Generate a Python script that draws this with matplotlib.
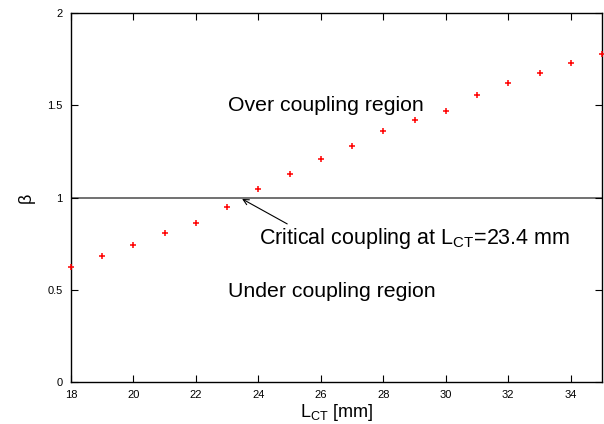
import numpy as np
import matplotlib
matplotlib.use('Agg')
import matplotlib.pyplot as plt

plt.rcParams['font.family'] = ['Liberation Sans', 'DejaVu Sans']
plt.rcParams['mathtext.fontset'] = 'custom'
plt.rcParams['mathtext.rm'] = 'Liberation Sans'
plt.rcParams['mathtext.it'] = 'Liberation Sans'

# data
l_ct = [18, 19, 20, 21, 22, 23, 24, 25, 26, 27, 28, 29, 30, 31, 32, 33, 34, 35]
beta = [0.625, 0.683, 0.743, 0.809, 0.862, 0.95, 1.048, 1.127, 1.207, 1.279,
        1.359, 1.418, 1.469, 1.557, 1.619, 1.678, 1.729, 1.778]
x_ticks = [18, 20, 22, 24, 26, 28, 30, 32, 34]
y_ticks = [0, 0.5, 1, 1.5, 2]
y_tick_labels = ['0', '0.5', '1', '1.5', '2']
critical_l = 23.4

fig = plt.figure(figsize=(6.04, 4.24), dpi=100)
ax = fig.add_axes([0.1175, 0.099, 0.8792, 0.870])

ax.axhline(1, color='0.35', lw=1.2, zorder=1)
ax.plot(l_ct, beta, '+', color='red', markersize=5, mew=1.1, clip_on=False, zorder=3)

ax.annotate('', xy=(critical_l, 1.0), xytext=(25.0, 0.85),
            arrowprops=dict(arrowstyle='->', color='black', lw=0.8))
ax.text(24.03, 0.78, r'Critical coupling at L$_{\mathrm{CT}}$=23.4 mm',
        fontsize=15.5, va='center', ha='left')
ax.text(23.03, 1.5, 'Over coupling region', fontsize=15.3, va='center', ha='left')
ax.text(23.03, 0.49, 'Under coupling region', fontsize=15.3, va='center', ha='left')

ax.set_xlim(18, 35)
ax.set_ylim(0, 2)
ax.set_xticks(x_ticks)
ax.set_yticks(y_ticks)
ax.set_yticklabels(y_tick_labels)
ax.tick_params(direction='in', top=True, right=True, length=5, width=0.8,
               labelsize=8, pad=6)
for s in ax.spines.values():
    s.set_linewidth(1.0)

ax.set_xlabel(r'L$_{\mathrm{CT}}$ [mm]', fontsize=13, labelpad=1)
ax.set_ylabel('β', fontsize=13, labelpad=9)

fig.savefig('out.png', dpi=100)
